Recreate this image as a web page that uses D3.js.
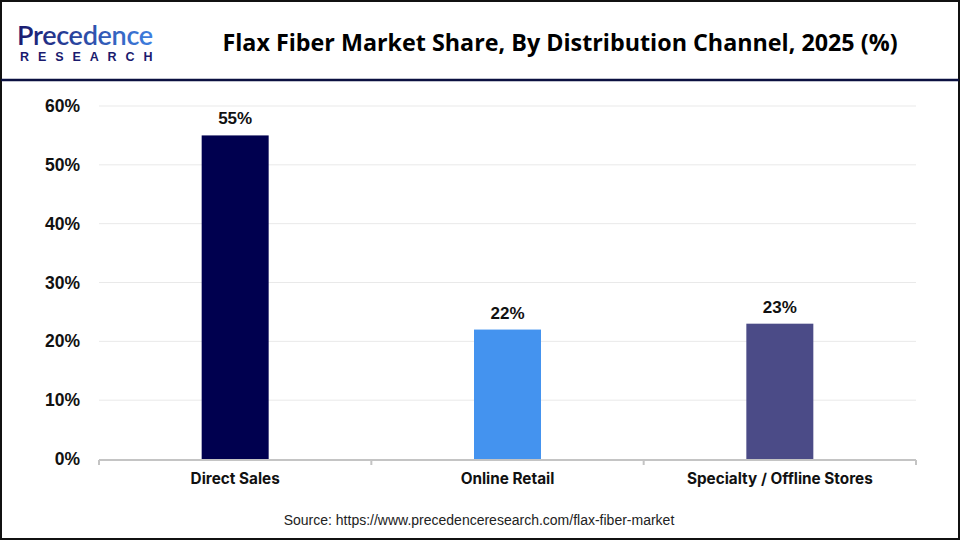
<!DOCTYPE html>
<html>
<head>
<meta charset="utf-8">
<script src="https://cdn.jsdelivr.net/npm/d3@7"></script>
<style>
  html, body { margin: 0; padding: 0; background: #fff; }
  svg { display: block; }
</style>
</head>
<body>
<div id="chart"></div>
<script>
// Chart data
const categories = ["Direct Sales", "Online Retail", "Specialty / Offline Stores"];
const shares = [55, 22, 23];
const barColors = ["#00004f", "#4493ef", "#4b4b87"];
const yTicks = [0, 10, 20, 30, 40, 50, 60];

const width = 960, height = 540;
const margin = { top: 106, right: 44, bottom: 81, left: 99 };

const svg = d3.select("#chart")
    .append("svg")
    .attr("width", width)
    .attr("height", height);

// Frame and header
svg.append("rect")
    .attr("x", 1).attr("y", 1)
    .attr("width", width - 2).attr("height", height - 2)
    .attr("fill", "#fff")
    .attr("stroke", "#111").attr("stroke-width", 2);

svg.append("line")
    .attr("x1", 1).attr("x2", width - 1)
    .attr("y1", 80).attr("y2", 80)
    .attr("stroke", "#0b1040").attr("stroke-width", 2.5);

// Logo
const defs = svg.append("defs");
const grad = defs.append("linearGradient").attr("id", "logoGrad")
    .attr("x1", "0%").attr("x2", "100%");
grad.append("stop").attr("offset", "0%").attr("stop-color", "#1a1a6e");
grad.append("stop").attr("offset", "100%").attr("stop-color", "#3f7fe0");

svg.append("text")
    .attr("x", 17).attr("y", 45)
    .attr("font-family", "Lato, 'Open Sans', sans-serif")
    .attr("font-size", 27)
    .attr("font-weight", 600)
    .attr("fill", "url(#logoGrad)")
    .attr("letter-spacing", -0.3)
    .text("Precedence");

svg.append("text")
    .attr("x", 20).attr("y", 61)
    .attr("font-family", "'Liberation Sans', Arial, sans-serif")
    .attr("font-size", 12.5)
    .attr("font-weight", 700)
    .attr("fill", "#1a1a6e")
    .attr("letter-spacing", 8.9)
    .text("RESEARCH");

// Title
svg.append("text")
    .attr("x", 560).attr("y", 51)
    .attr("text-anchor", "middle")
    .attr("font-family", "'Open Sans', Lato, sans-serif")
    .attr("font-size", 23.3)
    .attr("font-weight", 700)
    .attr("fill", "#000")
    .text("Flax Fiber Market Share, By Distribution Channel, 2025 (%)");

// Scales
const x = d3.scaleBand()
    .domain(categories)
    .range([margin.left, width - margin.right])
    .paddingInner(0.754)
    .paddingOuter(0.377);

const xGroup = d3.scaleBand()
    .domain(categories)
    .range([margin.left, width - margin.right]);

const y = d3.scaleLinear()
    .domain([0, 60])
    .range([height - margin.bottom, margin.top]);

// Gridlines
svg.append("g")
    .selectAll("line")
    .data(yTicks.filter(d => d > 0))
    .enter()
    .append("line")
    .attr("x1", margin.left).attr("x2", width - margin.right)
    .attr("y1", d => y(d)).attr("y2", d => y(d))
    .attr("stroke", "#e9e9e9").attr("stroke-width", 1);

// Y axis labels
const yAxis = d3.axisLeft(y)
    .tickValues(yTicks)
    .tickFormat(d => d + "%")
    .tickSize(0)
    .tickPadding(19);

svg.append("g")
    .attr("transform", `translate(${margin.left},0)`)
    .call(yAxis)
    .call(g => g.select(".domain").remove())
    .selectAll("text")
    .attr("font-family", "'Liberation Sans', Arial, sans-serif")
    .attr("font-size", 17.5)
    .attr("font-weight", 700)
    .attr("fill", "#111");

// Bars
svg.append("g")
    .selectAll("rect")
    .data(categories)
    .enter()
    .append("rect")
    .attr("x", d => x(d))
    .attr("y", (d, i) => y(shares[i]))
    .attr("width", x.bandwidth())
    .attr("height", (d, i) => y(0) - y(shares[i]))
    .attr("fill", (d, i) => barColors[i]);

// Value labels
svg.append("g")
    .selectAll("text")
    .data(categories)
    .enter()
    .append("text")
    .attr("x", d => x(d) + x.bandwidth() / 2)
    .attr("y", (d, i) => y(shares[i]) - 11)
    .attr("text-anchor", "middle")
    .attr("font-family", "'Liberation Sans', Arial, sans-serif")
    .attr("font-size", 17)
    .attr("font-weight", 700)
    .attr("fill", "#111")
    .text((d, i) => shares[i] + "%");

// X axis line with group boundary ticks
const axisY = y(0) + 1;
svg.append("line")
    .attr("x1", margin.left).attr("x2", width - margin.right)
    .attr("y1", axisY).attr("y2", axisY)
    .attr("stroke", "#c4c4c4").attr("stroke-width", 2);

const boundaries = categories.map(d => xGroup(d)).concat([width - margin.right]);
svg.append("g")
    .selectAll("line")
    .data(boundaries)
    .enter()
    .append("line")
    .attr("x1", d => d).attr("x2", d => d)
    .attr("y1", axisY).attr("y2", axisY + 5)
    .attr("stroke", "#c4c4c4").attr("stroke-width", 2);

// Category labels
svg.append("g")
    .selectAll("text")
    .data(categories)
    .enter()
    .append("text")
    .attr("x", d => xGroup(d) + xGroup.bandwidth() / 2)
    .attr("y", axisY + 24)
    .attr("text-anchor", "middle")
    .attr("font-family", "Inter, 'DejaVu Sans', sans-serif")
    .attr("font-size", 15.3)
    .attr("font-weight", 700)
    .attr("fill", "#111")
    .text(d => d);

// Source
svg.append("text")
    .attr("x", 479).attr("y", 525)
    .attr("text-anchor", "middle")
    .attr("font-family", "'Liberation Sans', Arial, sans-serif")
    .attr("font-size", 14)
    .attr("fill", "#222")
    .text("Source: https://www.precedenceresearch.com/flax-fiber-market");
</script>
</body>
</html>
